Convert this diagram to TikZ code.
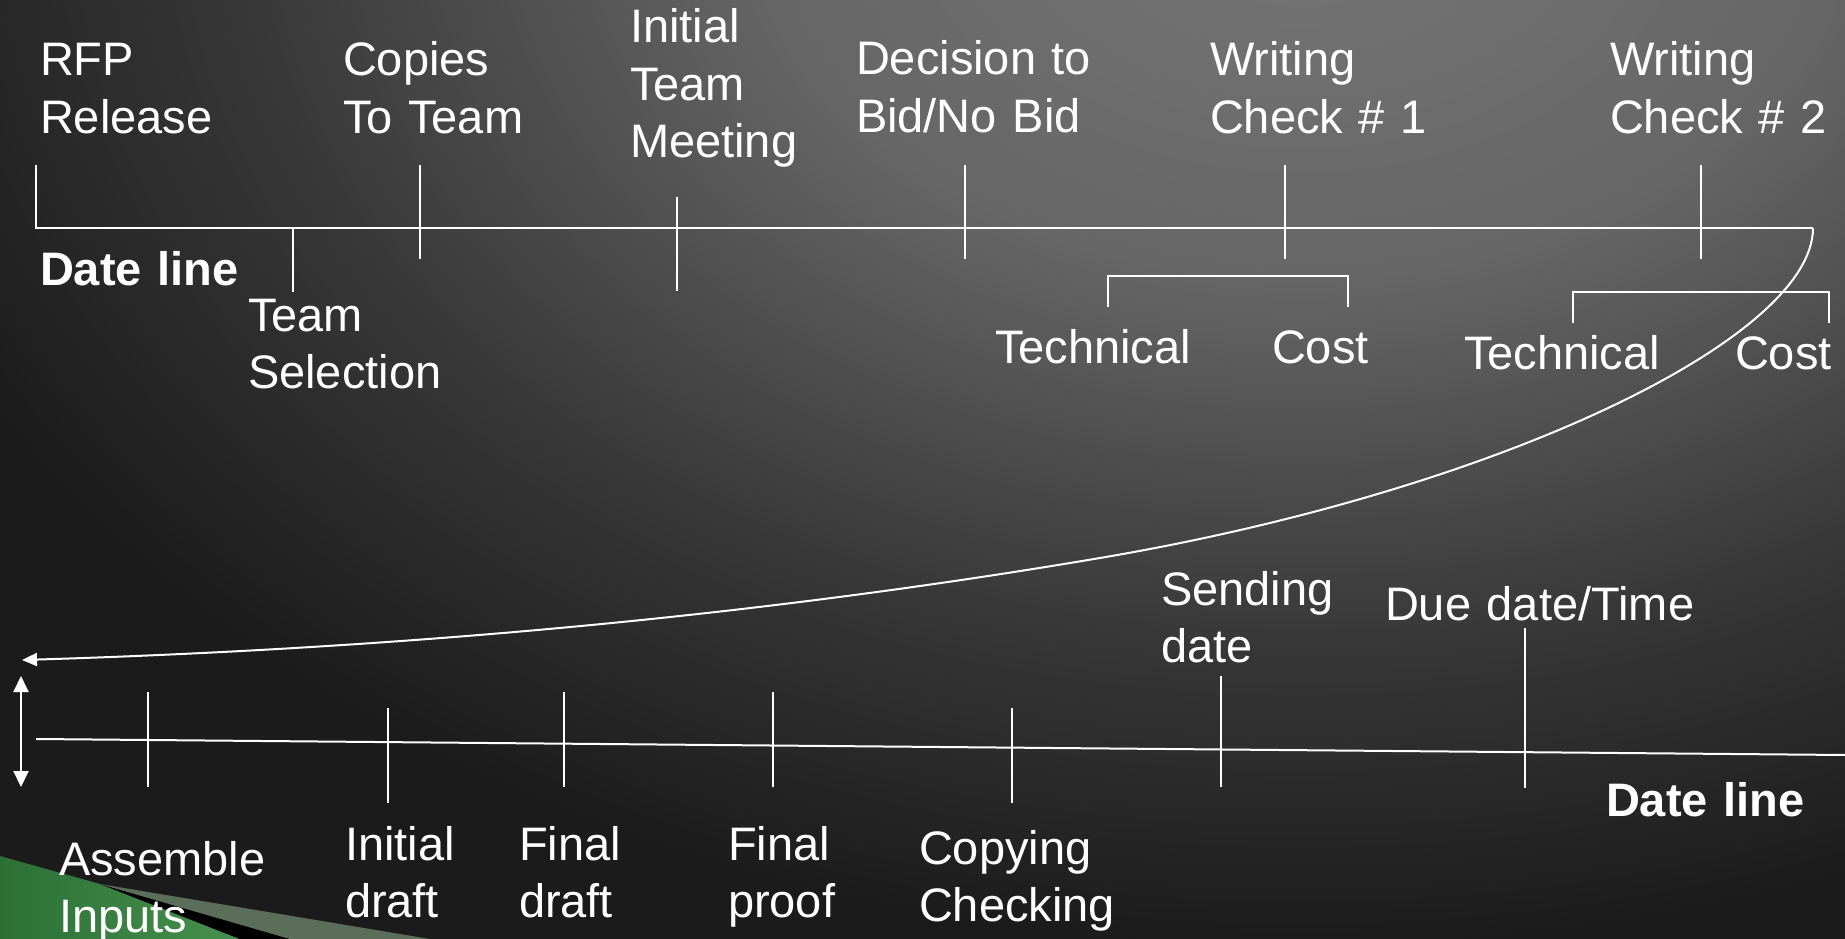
\documentclass[tikz,border=0pt]{standalone}
\usepackage{fontspec}
\setmainfont{Liberation Sans}
\usetikzlibrary{arrows.meta}

\definecolor{bgdark}{HTML}{1B1B1B}
\definecolor{bgmid}{HTML}{363636}
\definecolor{bglight}{HTML}{767676}
\definecolor{leafgreen}{HTML}{46904D}
\definecolor{leafdark}{HTML}{2C7036}
\definecolor{leafgrey}{HTML}{5A6E5A}

% soft glow for the slide background
\pgfdeclareradialshading{slideglow}{\pgfpoint{0bp}{0bp}}{%
  color(0bp)=(bglight); color(9bp)=(bglight!75!bgmid);
  color(18bp)=(bgmid); color(25bp)=(bgdark); color(50bp)=(bgdark)}

\tikzset{
  lbl/.style={anchor=base west, inner sep=0pt, text width=600pt, align=left,
    text=white, font=\fontsize{47}{57.5}\selectfont},
  boldlbl/.style={lbl, font=\fontsize{47}{57.5}\selectfont\bfseries},
  tickline/.style={draw=white, line width=2pt},
  headarrow/.style={-{Triangle[length=15pt,width=13pt]}},
}

\begin{document}
\begin{tikzpicture}[x=1pt, y=-1pt, line width=2pt, white]
\useasboundingbox (0,0) rectangle (1845,939);

% background
\begin{scope}
  \clip (0,0) rectangle (1845,939);
  \fill[bgdark] (0,0) rectangle (1845,939);
  \shade[shading=slideglow] (1300,-100) ellipse[x radius=1500pt, y radius=1050pt];
  \shade[left color=leafdark, right color=leafgreen]
    (0,856) -- (100,884) -- (240,939) -- (0,939) -- cycle;
  \fill[black] (100,884) -- (290,939) -- (240,939) -- cycle;
  \fill[leafgrey] (100,884) -- (430,939) -- (290,939) -- cycle;
\end{scope}

% upper date line
\coordinate (rfpTop)  at (36,165);
\coordinate (rfpEnd)  at (36,228);
\coordinate (turn)    at (1813,228);
\coordinate (tselA)   at (293,228);
\coordinate (tselB)   at (293,292);
\coordinate (copyA)   at (420,165);
\coordinate (copyB)   at (420,259);
\coordinate (meetA)   at (677,197);
\coordinate (meetB)   at (677,291);
\coordinate (bidA)    at (965,165);
\coordinate (bidB)    at (965,259);
\coordinate (wcA)     at (1285,165);
\coordinate (wcB)     at (1285,259);
\coordinate (wcbA)    at (1701,165);
\coordinate (wcbB)    at (1701,259);

\draw[tickline] (rfpTop) -- (rfpEnd) -- (turn);
\draw[tickline] (tselA) -- (tselB);
\draw[tickline] (copyA) -- (copyB);
\draw[tickline] (meetA) -- (meetB);
\draw[tickline] (bidA) -- (bidB);
\draw[tickline] (wcA) -- (wcB);
\draw[tickline] (wcbA) -- (wcbB);

% technical / cost brackets
\coordinate (techA) at (1108,307);
\coordinate (costA) at (1348,307);
\coordinate (techB) at (1573,323);
\coordinate (costB) at (1829,323);
\draw[tickline] (techA) -- ++(0,-31) -| (costA);
\draw[tickline] (techB) -- ++(0,-31) -| (costB);

% labels above and below the upper line
\node[lbl] (rfp)      at (39,76)   {RFP\\Release};
\node[lbl] (copies)   at (342,76)  {Copies\\To Team};
\node[lbl] (meeting)  at (629,43)  {Initial\\Team\\Meeting};
\node[lbl] (bid)      at (855,75)  {Decision to\\Bid/No Bid};
\node[lbl] (check1)   at (1209,76) {Writing\\Check \# 1};
\node[lbl] (check2)   at (1609,76) {Writing\\Check \# 2};
\node[boldlbl] (topdate) at (39,285) {Date line};
\node[lbl] (select)   at (247,331) {Team\\Selection};
\node[lbl] (tech1)    at (994,363)  {Technical};
\node[lbl] (cost1)    at (1271,363) {Cost};
\node[lbl] (tech2)    at (1463,369) {Technical};
\node[lbl] (cost2)    at (1734,369) {Cost};

% sweep back down to the lower line
\coordinate (mid)  at (1100,558);
\coordinate (back) at (22,660);
\draw[headarrow] (turn) .. controls (1813,338) and (1500,490) .. (mid)
  .. controls (740,619) and (382,649) .. (back);

% lower date line
\coordinate (lowStart) at (36,739);
\coordinate (lowEnd)   at (1845,755);
\draw[tickline] (lowStart) -- (lowEnd);

\coordinate (upTip)   at (21,676);
\coordinate (downTip) at (21,787);
\draw[{Triangle[length=16pt,width=15pt]}-{Triangle[length=16pt,width=15pt]}] (upTip) -- (downTip);

\coordinate (asmA)   at (148,692);
\coordinate (asmB)   at (148,787);
\coordinate (idrA)   at (388,708);
\coordinate (idrB)   at (388,803);
\coordinate (fdrA)   at (564,692);
\coordinate (fdrB)   at (564,787);
\coordinate (fprA)   at (773,692);
\coordinate (fprB)   at (773,787);
\coordinate (cpyA)   at (1012,708);
\coordinate (cpyB)   at (1012,803);
\coordinate (sndA)   at (1221,676);
\coordinate (sndB)   at (1221,787);
\coordinate (dueA)   at (1525,628);
\coordinate (dueB)   at (1525,788);

\draw[tickline] (asmA) -- (asmB);
\draw[tickline] (idrA) -- (idrB);
\draw[tickline] (fdrA) -- (fdrB);
\draw[tickline] (fprA) -- (fprB);
\draw[tickline] (cpyA) -- (cpyB);
\draw[tickline] (sndA) -- (sndB);
\draw[tickline] (dueA) -- (dueB);

% labels around the lower line
\node[lbl] (sending)  at (1160,605) {Sending\\date};
\node[lbl] (due)      at (1384,620) {Due date/Time};
\node[boldlbl] (lowdate) at (1605,816) {Date line};
\node[lbl] (assemble) at (58,875)  {Assemble\\Inputs};
\node[lbl] (idraft)   at (344,860) {Initial\\draft};
\node[lbl] (fdraft)   at (518,860) {Final\\draft};
\node[lbl] (fproof)   at (727,860) {Final\\proof};
\node[lbl] (copying)  at (918,864) {Copying\\Checking};
\end{tikzpicture}
\end{document}
